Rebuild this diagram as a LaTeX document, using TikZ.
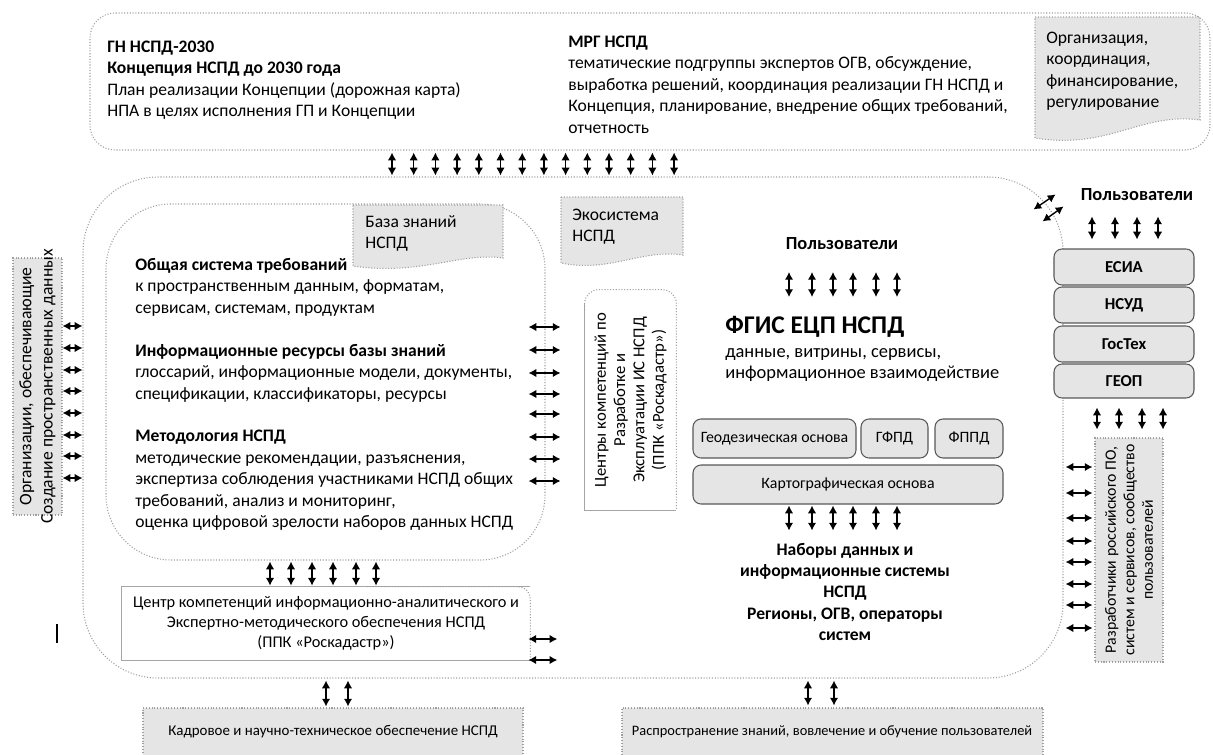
\documentclass[tikz,border=0pt]{standalone}
\usepackage{fontspec}
\setmainfont{Carlito}
\usetikzlibrary{arrows.meta,calc,fit}
\newcommand\fl{\rule{0pt}{8pt}}
\begin{document}
\begin{tikzpicture}[x=0.02cm,y=-0.02cm,
  every node/.style={inner sep=0pt},
  txt/.style={font=\fontsize{10}{12.2}\selectfont},
  dline/.style={draw=gray!75, densely dotted, line width=0.6pt},
  sline/.style={draw=gray!70, line width=0.5pt},
  gfill/.style={fill=black!10},
  region/.style={dline, fit={#1}},
  sz/.style 2 args={minimum width=#1*0.02cm, minimum height=#2*0.02cm},
  sysbox/.style={draw=black!65, fill=black!10, rounded corners=0.16cm, line width=0.6pt, font=\fontsize{9}{11}\selectfont},
  dar/.style={{Latex[length=4.4pt,width=4.8pt]}-{Latex[length=4.4pt,width=4.8pt]}, line width=0.8pt}
]
\useasboundingbox (0,0) rectangle (1213,754);
\fill[white] (0,0) rectangle (1213,754);

% ---------- top block
\node[region={(90,13) (1210,150)}, rounded corners=0.5cm] (top) {};
\node[txt, anchor=north west, align=left] (gn) at (107,38) {\fl\textbf{ГН НСПД-2030}\\\textbf{Концепция НСПД до 2030 года}\\План реализации Концепции (дорожная карта)\\НПА в целях исполнения ГП и Концепции};
\node[txt, anchor=north west, align=left] (mrg) at (568,33) {\fl\textbf{МРГ НСПД}\\тематические подгруппы  экспертов  ОГВ, обсуждение,\\выработка  решений, координация реализации ГН НСПД и\\Концепция, планирование, внедрение общих требований,\\отчетность};
\path[dline, gfill] (1035,17) -- (1200,17) -- (1200,120) .. controls (1140,112) and (1110,150) .. (1035,138) -- cycle;
\node[txt, anchor=north west, align=left] (orgk) at (1046,29) {\fl Организация,\\координация,\\финансирование,\\регулирование};

% ---------- main block
\node[region={(83,177) (1063,678)}, rounded corners=1.5cm] (main) {};
\foreach \i [evaluate=\i as \xx using 392+21.7*\i] in {0,...,13}
  \draw[dar] ($(top.south -| \xx,0)+(0,2)$) -- ($(main.north -| \xx,0)+(0,-1)$);

% diagonal arrows at the corner
\draw[dar] ($(main.north east)+(-30,33)$) -- ($(main.north east)+(-8,18)$);
\draw[dar] ($(main.north east)+(-21,45)$) -- ($(main.north east)+(0,30)$);

% ---------- left organisations
\node[region={(13,258) (62,515)}, gfill] (org) {};
\node[rotate=90, align=center, font=\fontsize{10}{12}\selectfont] (orgt) at (org.center) {Организации, обеспечивающие\\Создание пространственных данных};
\foreach \y in {326,348,370,391,413,435,456,478}
  \draw[dar] (org.east |- 0,\y) -- (main.west |- 0,\y);

% ---------- knowledge base
\node[region={(106,204) (545,560)}, rounded corners=1.3cm] (kb) {};
\path[dline, gfill] (353,205) -- (503,205) -- (503,258) .. controls (460,252) and (420,276) .. (353,266) -- cycle;
\node[txt, anchor=north west, align=left] (kbn) at (365,213) {\fl База знаний\\НСПД};
\node[txt, anchor=north west, align=left] (kbt) at (135,256) {\fl\textbf{Общая система требований}\\к пространственным  данным, форматам,\\сервисам, системам, продуктам\\[12.2pt]\textbf{Информационные ресурсы базы знаний}\\глоссарий, информационные модели, документы,\\спецификации, классификаторы, ресурсы\\[12.2pt]\textbf{Методология  НСПД}\\методические рекомендации, разъяснения,\\экспертиза  соблюдения участниками НСПД общих\\требований, анализ и мониторинг,\\оценка цифровой зрелости  наборов  данных НСПД};
\foreach \y in {327,350,373,394,414,437,459,481}
  \draw[dar] ($(kb.east |- 0,\y)+(-17,0)$) -- ($(kb.east |- 0,\y)+(15,0)$);

% ---------- competence centre (bottom)
\node[fit={(122,587) (530,660)}] (cc) {};
\draw[sline] (cc.north east) -- (cc.north west) -- (cc.south west) -- (cc.south east);
\draw[dline, rounded corners=0.25cm] ($(cc.north west)!0.6!(cc.north east)$) -- (cc.north east) -- (cc.south east);
\node[align=center, font=\fontsize{9.3}{11.3}\selectfont] (cct) at (326,623) {Центр компетенций информационно-аналитического и\\Экспертно-методического обеспечения НСПД\\(ППК «Роскадастр»)};
\foreach \x in {270,291,312,333,356,376}
  \draw[dar] ($(kb.south -| \x,0)+(0,1)$) -- ($(cc.north -| \x,0)+(0,-1)$);
\foreach \y in {639,660}
  \draw[dar] ($(cc.east |- 0,\y)+(-2,0)$) -- ($(cc.east |- 0,\y)+(27,0)$);

% ---------- competence centres (vertical)
\node[fit={(585,290) (676,510)}] (cr) {};
\draw[sline] ($(cr.north west)+(0,14)$) -- (cr.south west) -- (cr.south east);
\draw[dline, rounded corners=0.28cm] ($(cr.north west)+(0,20)$) -- (cr.north west) -- (cr.north east) -- (cr.south east);
\node[rotate=90, align=center, font=\fontsize{9.5}{11}\selectfont] (crt) at (cr.center) {Центры компетенций по\\Разработке и\\Эксплуатации ИС НСПД\\(ППК «Роскадастр»)};

% ---------- ecosystem
\path[dline, gfill] (561,197) -- (683,197) -- (683,255) .. controls (640,249) and (610,273) .. (561,263) -- cycle;
\node[txt, anchor=north west, align=left] (eco) at (572,206) {\fl Экосистема\\НСПД};

% ---------- FGIS
\node[anchor=base, font=\bfseries\fontsize{10.5}{12}\selectfont] (u1) at (842,249) {Пользователи};
\node[anchor=base west, font=\bfseries\fontsize{14.5}{18}\selectfont] (fgis) at (725,333) {ФГИС ЕЦП НСПД};
\node[anchor=north west, align=left, font=\fontsize{10.5}{12.2}\selectfont] (fgisd) at (725,343) {\fl данные, витрины, сервисы,\\информационное взаимодействие};
\foreach \x in {789,812,833,853,876,897}
  \draw[dar] ($(u1.base -| \x,0)+(0,23)$) -- ($(u1.base -| \x,0)+(0,48)$);

\node[sysbox, sz={163}{39}] (geo) at (774.5,438.5) {Геодезическая основа};
\node[sysbox, sz={67}{39}] (gfpd) at (894.5,438.5) {ГФПД};
\node[sysbox, sz={68}{39}] (fppd) at (969,438.5) {ФППД};
\node[sysbox, sz={310}{39}] (kart) at (848,484.5) {Картографическая основа};
\foreach \x in {789,812,833,853,876,897}
  \draw[dar] ($(kart.south -| \x,0)+(0,1)$) -- ($(kart.south -| \x,0)+(0,26)$);
\node[anchor=north, align=center, font=\bfseries\fontsize{10}{12.1}\selectfont] (nab) at (845,541) {\fl Наборы данных и\\информационные системы\\НСПД\\Регионы, ОГВ, операторы\\систем};

% ---------- right panel
\node[anchor=base, font=\bfseries\fontsize{10.5}{12}\selectfont] (u2) at (1137,200) {Пользователи};
\node[sysbox, sz={140}{36}, font=\bfseries\fontsize{9.5}{11}\selectfont] (esia) at (1124,267) {ЕСИА};
\node[sysbox, sz={140}{36}, font=\bfseries\fontsize{9.5}{11}\selectfont] (nsud) at (1124,305) {НСУД};
\node[sysbox, sz={140}{36}, font=\bfseries\fontsize{9.5}{11}\selectfont] (gostech) at (1124,344) {ГосТех};
\node[sysbox, sz={140}{34}, font=\bfseries\fontsize{9.5}{11}\selectfont] (geop) at (1124,381) {ГЕОП};
\foreach \x in {1092,1115,1137,1158}
  \draw[dar] ($(esia.north -| \x,0)+(0,-32)$) -- ($(esia.north -| \x,0)+(0,-9)$);
\node[region={(1095,438) (1163,662)}, gfill] (dev) {};
\node[rotate=90, align=center, font=\fontsize{9}{10.5}\selectfont] (devt) at (dev.center) {Разработчики российского ПО,\\систем и сервисов, сообщество\\пользователей};
\foreach \x in {1097,1119,1142,1163}
  \draw[dar] ($(geop.south -| \x,0)+(0,9)$) -- ($(dev.north -| \x,0)+(0,-8)$);
\foreach \y in {467,493,518,541,562,584,605,628}
  \draw[dar] ($(main.east |- 0,\y)+(2,0)$) -- ($(dev.west |- 0,\y)+(-2,0)$);

% ---------- bottom blocks
\node[region={(143,708) (523,770)}, gfill] (kadr) {};
\node[font=\fontsize{8.5}{10}\selectfont] (kadrt) at (333,732) {Кадровое и научно-техническое обеспечение НСПД};
\node[region={(622,708) (1043,770)}, gfill] (rasp) {};
\node[font=\fontsize{8.2}{10}\selectfont] (raspt) at (832,732) {Распространение знаний, вовлечение и обучение пользователей};
\foreach \x in {326,348}
  \draw[dar] ($(main.south -| \x,0)+(0,2)$) -- ($(kadr.north -| \x,0)+(0,-1)$);
\foreach \x in {808,834}
  \draw[dar] ($(main.south -| \x,0)+(0,2)$) -- ($(rasp.north -| \x,0)+(0,-2)$);

% stray mark
\draw[line width=1.3pt] (57,624) -- (57,643);
\end{tikzpicture}
\end{document}
